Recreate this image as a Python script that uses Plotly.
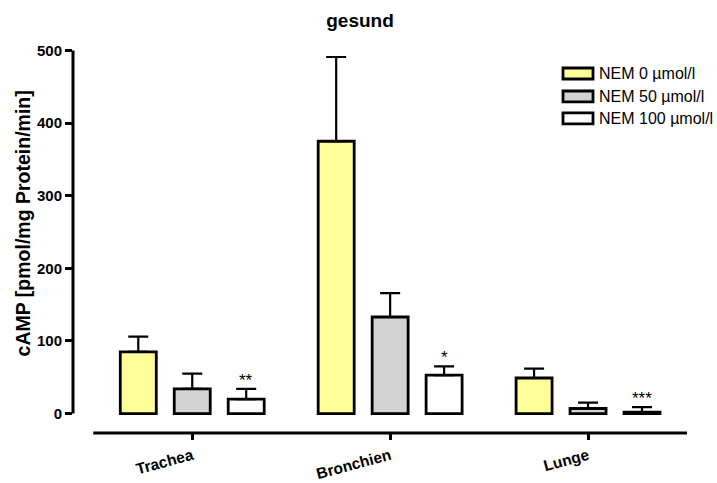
import plotly.graph_objects as go

# Tissue groups and NEM concentrations
tissues = ["Trachea", "Bronchien", "Lunge"]
series_names = ["NEM 0 µmol/l", "NEM 50 µmol/l", "NEM 100 µmol/l"]

# cAMP means and upper SEM per concentration (pmol/mg Protein/min)
nem0_mean = [85, 375, 49]
nem0_sem = [21, 116, 13]
nem50_mean = [34, 133, 7]
nem50_sem = [21, 33, 8]
nem100_mean = [20, 53, 2]
nem100_sem = [14, 12, 7]

# Significance marks for the NEM 100 µmol/l bars
nem100_marks = ["**", "*", "***"]

y_ticks = [0, 100, 200, 300, 400, 500]

means = [nem0_mean, nem50_mean, nem100_mean]
sems = [nem0_sem, nem50_sem, nem100_sem]
fills = ["#FFFF99", "#D3D3D3", "#FFFFFF"]

BARGAP = 0.182
GROUPGAP = 0.333
slot = (1 - BARGAP) / 3

FONT = "Arial, Liberation Sans"

fig = go.Figure()
x_idx = list(range(len(tissues)))
for name, m, s, c in zip(series_names, means, sems, fills):
    fig.add_trace(go.Bar(
        x=x_idx, y=m, name=name,
        marker=dict(color=c, line=dict(color="black", width=2.8)),
        error_y=dict(type="data", symmetric=False, array=s,
                     arrayminus=[0] * len(s), color="black",
                     thickness=2.2, width=10),
        showlegend=False,
    ))

annotations = []
# stars above the NEM 100 bars
for i, mark in enumerate(nem100_marks):
    annotations.append(dict(
        x=i + slot, y=nem100_mean[i] + nem100_sem[i], xref="x", yref="y",
        text=mark, showarrow=False, yanchor="bottom", yshift=-3,
        font=dict(family=FONT, size=17, color="black"),
    ))

# y-axis title
annotations.append(dict(
    x=-50 / 614, y=(432.7 - 223) / 384.2, xref="paper", yref="paper",
    text="<b>cAMP [pmol/mg Protein/min]</b>", textangle=-90, showarrow=False,
    xanchor="center", yanchor="middle",
    font=dict(family=FONT, size=19.5, color="black"),
))

# legend drawn as boxes with labels
shapes = []
legend_rows = [73, 96, 118]
for name, c, yc in zip(series_names, fills, legend_rows):
    y0 = (432.7 - (yc + 5.5)) / 384.2
    y1 = (432.7 - (yc - 5.5)) / 384.2
    shapes.append(dict(type="rect", xref="paper", yref="paper",
                       x0=(563 - 73) / 614, x1=(593 - 73) / 614, y0=y0, y1=y1,
                       fillcolor=c, line=dict(color="black", width=2.8)))
    annotations.append(dict(
        x=(597 - 73) / 614, y=(432.7 - yc) / 384.2, xref="paper", yref="paper",
        text=name, showarrow=False, xanchor="left", yanchor="middle",
        font=dict(family=FONT, size=16, color="black"),
    ))

# axis lines
shapes.append(dict(type="line", xref="paper", yref="y", x0=0, x1=0,
                   y0=y_ticks[0], y1=y_ticks[-1],
                   line=dict(color="black", width=3)))
shapes.append(dict(type="line", xref="x", yref="paper", x0=-0.5,
                   x1=len(tissues) - 0.5, y0=0, y1=0,
                   line=dict(color="black", width=3)))

fig.update_layout(
    width=717, height=483,
    margin=dict(l=73, r=30, t=48.5, b=50.3, autoexpand=False),
    plot_bgcolor="white", paper_bgcolor="white",
    barmode="group", bargap=BARGAP, bargroupgap=GROUPGAP,
    title=dict(text="<b>gesund</b>", x=360 / 717, xref="container",
               xanchor="center", y=1 - 20 / 483, yref="container",
               yanchor="middle",
               font=dict(family=FONT, size=19, color="black")),
    xaxis=dict(range=[-0.6025, 2.5], tickmode="array", tickvals=x_idx,
               ticktext=["<b>%s</b>" % t for t in tissues], tickangle=-15,
               ticks="outside", ticklen=6, tickwidth=2.8, tickcolor="black",
               ticklabelstandoff=1, automargin=False,
               showline=False, showgrid=False, zeroline=False,
               tickfont=dict(family=FONT, size=15.5, color="black")),
    yaxis=dict(range=[-26.7, 502], tickmode="array", tickvals=y_ticks,
               ticktext=["<b>%d</b>" % v for v in y_ticks],
               ticks="outside", ticklen=7, tickwidth=2.8, tickcolor="black",
               automargin=False,
               showline=False, showgrid=False, zeroline=False,
               tickfont=dict(family=FONT, size=15, color="black")),
    shapes=shapes, annotations=annotations,
    showlegend=False,
)

fig.write_html("out.html")
